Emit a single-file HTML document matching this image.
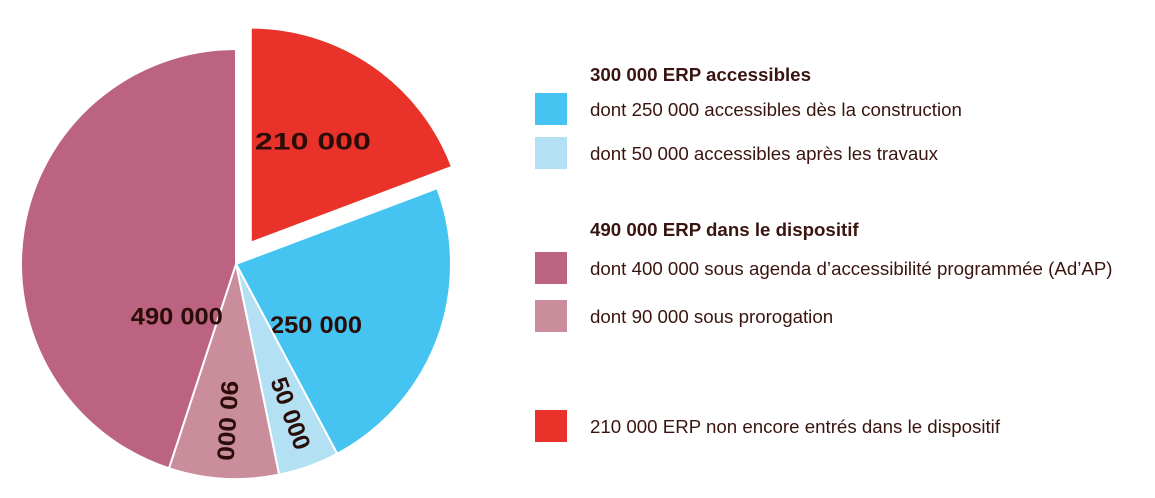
<!DOCTYPE html>
<html><head><meta charset="utf-8"><style>
body{margin:0;background:#fff;width:1155px;height:493px;overflow:hidden;font-family:"Liberation Sans",sans-serif}
</style></head><body>
<svg width="1155" height="493">
<g id="pie"></g>
<g id="legend" font-family="Liberation Sans, sans-serif" fill="#3a1510"></g>
</svg>
<script>
const values=[210000,250000,50000,90000,490000];
const labels=["210 000","250 000","50 000","90 000","490 000"];
const colors=["#e8322a","#45c4f2","#b3e0f2","#c98d9b","#bb6380"];
const sliceNames=["slice-not-entered","slice-accessible-construction","slice-accessible-works","slice-prorogation","slice-dispositif"];
const legendItems=[
 {t:"300 000 ERP accessibles",h:true,y:74},
 {t:"dont 250 000 accessibles dès la construction",c:"#45c4f2",y:109},
 {t:"dont 50 000 accessibles après les travaux",c:"#b3e0f2",y:153},
 {t:"490 000 ERP dans le dispositif",h:true,y:229},
 {t:"dont 400 000 sous agenda d’accessibilité programmée (Ad’AP)",c:"#bb6380",y:268},
 {t:"dont 90 000 sous prorogation",c:"#c98d9b",y:316},
 {t:"210 000 ERP non encore entrés dans le dispositif",c:"#e8322a",y:426}
];
const NS="http://www.w3.org/2000/svg";
const cx=236,cy=264,r=215;
const total=values.reduce((a,b)=>a+b,0);
const pie=document.getElementById('pie');
const lrs=[0.55,0.47,0.74,0.73,0.37];
const lshift=[-3,17,0,0,-51];
const lens=[116,92,75,80,92];
let a0=0;
function pt(ang,rad,ox,oy){return [ox+rad*Math.sin(ang),oy-rad*Math.cos(ang)];}
values.forEach((v,i)=>{
 const a1=a0+v/total*2*Math.PI;
 const m=(a0+a1)/2;
 let ox=cx,oy=cy;
 if(i===0){ox+=26*Math.sin(m);oy-=26*Math.cos(m);}
 const p0=pt(a0,r,ox,oy),p1=pt(a1,r,ox,oy);
 const p=document.createElementNS(NS,'path');
 p.setAttribute('d',`M${ox},${oy}L${p0[0]},${p0[1]}A${r},${r} 0 ${a1-a0>Math.PI?1:0} 1 ${p1[0]},${p1[1]}Z`);
 p.setAttribute('fill',colors[i]);
 p.setAttribute('stroke','#fff');p.setAttribute('stroke-width','2');
 
 
 pie.appendChild(p);
 const lp=pt(m+lshift[i]*Math.PI/180,r*lrs[i],ox,oy);
 const t=document.createElementNS(NS,'text');
 t.setAttribute('x',lp[0]);t.setAttribute('y',lp[1]);
 t.setAttribute('text-anchor','middle');t.setAttribute('dominant-baseline','central');
 t.setAttribute('font-size','24');t.setAttribute('font-weight','bold');t.setAttribute('fill','#2a0d08');
 t.setAttribute('textLength',lens[i]);t.setAttribute('lengthAdjust','spacingAndGlyphs');
 if(i===2||i===3){const deg=m*180/Math.PI-90;t.setAttribute('transform',`rotate(${deg} ${lp[0]} ${lp[1]})`);}
 t.textContent=labels[i];
 
 
 pie.appendChild(t);
 a0=a1;
});
const lg=document.getElementById('legend');
legendItems.forEach(it=>{
 if(it.c){
  const b=document.createElementNS(NS,'rect');
  b.setAttribute('x',535);b.setAttribute('y',it.y-16);b.setAttribute('width',32);b.setAttribute('height',32);
  b.setAttribute('fill',it.c);
  
  
  lg.appendChild(b);
 }
 const t=document.createElementNS(NS,'text');
 t.setAttribute('x',590);t.setAttribute('y',it.y+7);
 t.setAttribute('font-size','18.7');
 if(it.h)t.setAttribute('font-weight','bold');
 t.textContent=it.t;
 
 
 lg.appendChild(t);
});
</script>
</body></html>
